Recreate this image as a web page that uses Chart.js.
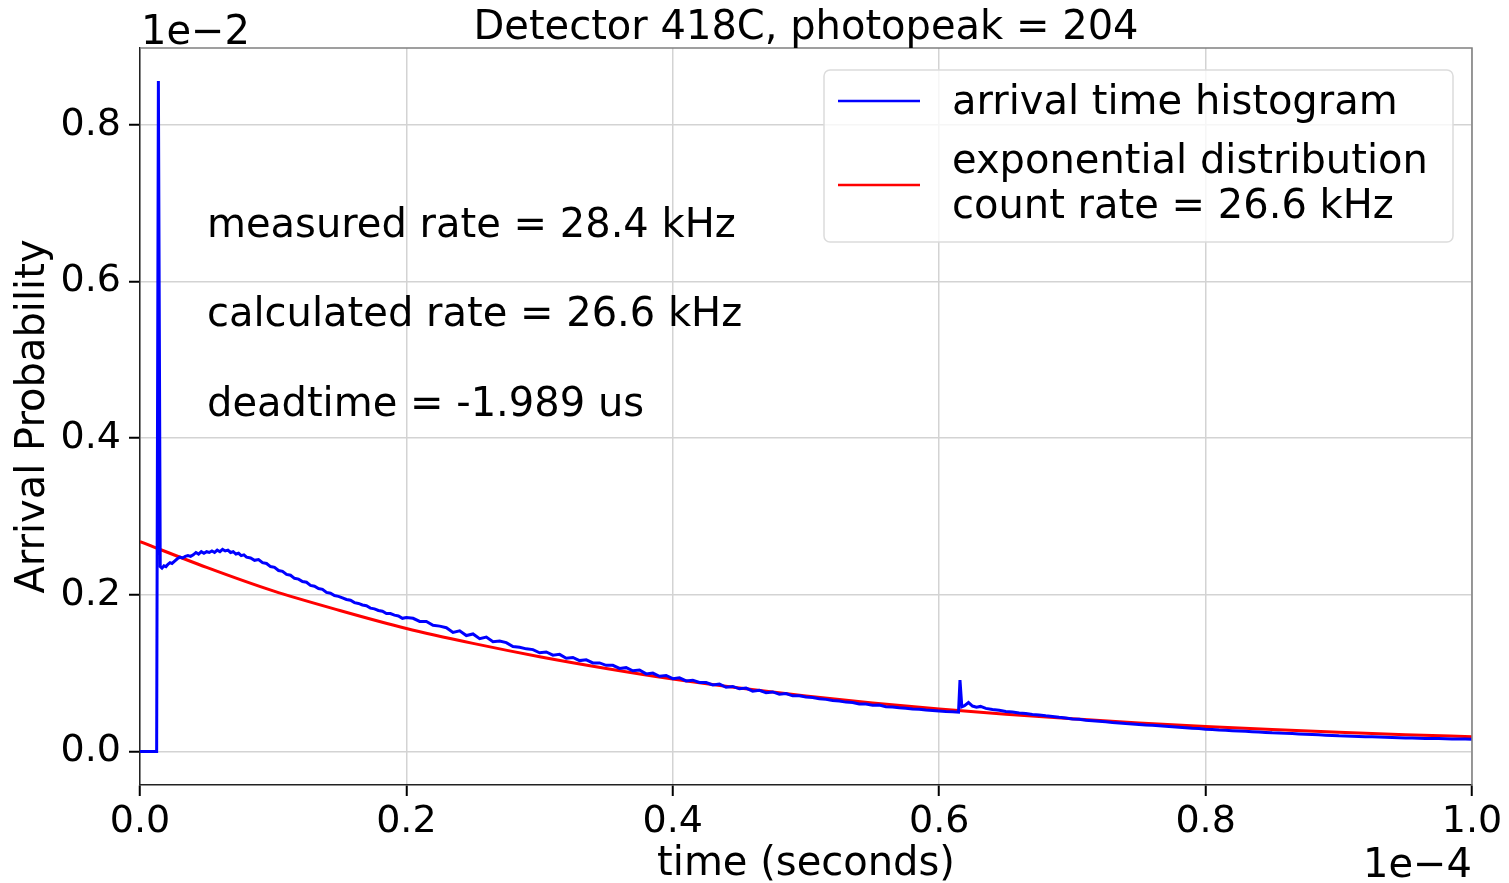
<!DOCTYPE html>
<html>
<head>
<meta charset="utf-8">
<script src="https://cdn.jsdelivr.net/npm/chart.js@4"></script>
<style>
  body { margin: 0; background: #fff; }
  #wrap { width: 1509px; height: 883px; }
</style>
</head>
<body>
<div id="wrap"><canvas id="myChart"></canvas></div>
<script>
// x in units of 1e-4 s, y in units of 1e-2
const xTicks = [0.0, 0.2, 0.4, 0.6, 0.8, 1.0]
const yTicks = [0.0, 0.2, 0.4, 0.6, 0.8]

const blueTime = [
  0, 0.0125, 0.0138, 0.0152, 0.0165, 0.018, 0.0195, 0.021, 0.0225, 0.024,
  0.026, 0.028, 0.030, 0.032, 0.034, 0.036, 0.038, 0.040, 0.042, 0.044,
  0.046, 0.048, 0.050, 0.052, 0.054, 0.056, 0.058, 0.060, 0.062, 0.064,
  0.066, 0.068, 0.070, 0.072, 0.074, 0.076, 0.078, 0.080, 0.083, 0.086,
  0.089, 0.092, 0.095, 0.098, 0.101, 0.104, 0.107, 0.110, 0.113, 0.116,
  0.119, 0.122, 0.125, 0.128, 0.131, 0.134, 0.137, 0.140, 0.143, 0.146,
  0.149, 0.152, 0.155, 0.158, 0.161, 0.164, 0.167, 0.170, 0.173, 0.176,
  0.179, 0.182, 0.185, 0.188, 0.191, 0.194, 0.197, 0.200, 0.205, 0.210,
  0.215, 0.220, 0.225, 0.230, 0.235, 0.240, 0.245, 0.250, 0.255, 0.260,
  0.265, 0.270, 0.275, 0.280, 0.285, 0.290, 0.295, 0.300, 0.305, 0.310,
  0.315, 0.320, 0.325, 0.330, 0.335, 0.340, 0.345, 0.350, 0.355, 0.360,
  0.365, 0.370, 0.375, 0.380, 0.385, 0.390, 0.395, 0.400, 0.405, 0.410,
  0.415, 0.420, 0.425, 0.430, 0.435, 0.440, 0.445, 0.450, 0.455, 0.460,
  0.465, 0.470, 0.475, 0.480, 0.485, 0.490, 0.495, 0.500, 0.505, 0.510,
  0.515, 0.520, 0.525, 0.530, 0.535, 0.540, 0.545, 0.550, 0.555, 0.560,
  0.565, 0.570, 0.575, 0.580, 0.585, 0.590, 0.595, 0.600, 0.605, 0.610,
  0.6145, 0.6156, 0.617, 0.619, 0.622, 0.625, 0.628, 0.631, 0.635, 0.640,
  0.645, 0.650, 0.655, 0.660, 0.665, 0.670, 0.675, 0.680, 0.685, 0.690,
  0.695, 0.700, 0.705, 0.710, 0.715, 0.720, 0.725, 0.730, 0.735, 0.740,
  0.745, 0.750, 0.755, 0.760, 0.765, 0.770, 0.775, 0.780, 0.785, 0.790,
  0.795, 0.800, 0.805, 0.810, 0.815, 0.820, 0.825, 0.830, 0.835, 0.840,
  0.845, 0.850, 0.855, 0.860, 0.865, 0.870, 0.875, 0.880, 0.885, 0.890,
  0.895, 0.900, 0.905, 0.910, 0.915, 0.920, 0.925, 0.930, 0.935, 0.940,
  0.945, 0.950, 0.955, 0.960, 0.965, 0.970, 0.975, 0.980, 0.985, 0.990,
  0.995, 1.000
]
const blueProb = [
  0, 0, 0.856, 0.236, 0.234, 0.237, 0.236, 0.239, 0.241, 0.240,
  0.243, 0.246, 0.248, 0.247, 0.249, 0.250, 0.249, 0.251, 0.254, 0.252,
  0.255, 0.253, 0.255, 0.254, 0.256, 0.254, 0.257, 0.255, 0.258, 0.256,
  0.257, 0.254, 0.255, 0.252, 0.253, 0.250, 0.251, 0.248, 0.247, 0.244,
  0.245, 0.241, 0.240, 0.236, 0.235, 0.231, 0.230, 0.226, 0.225, 0.221,
  0.220, 0.217, 0.216, 0.212, 0.211, 0.208, 0.207, 0.203, 0.202, 0.199,
  0.198, 0.196, 0.194, 0.193, 0.190, 0.189, 0.187, 0.186, 0.183, 0.182,
  0.180, 0.179, 0.176, 0.176, 0.174, 0.173, 0.170, 0.171, 0.170, 0.166,
  0.166, 0.161, 0.160, 0.158, 0.152, 0.154, 0.148, 0.150, 0.144, 0.146,
  0.140, 0.141, 0.139, 0.134, 0.133, 0.131, 0.130, 0.126, 0.127, 0.123,
  0.124, 0.119, 0.120, 0.116, 0.117, 0.113, 0.113, 0.110, 0.110, 0.106,
  0.107, 0.103, 0.104, 0.099, 0.100, 0.096, 0.097, 0.093, 0.094, 0.090,
  0.091, 0.088, 0.088, 0.085, 0.086, 0.082, 0.083, 0.080, 0.081, 0.077,
  0.078, 0.075, 0.076, 0.073, 0.074, 0.071, 0.071, 0.0695, 0.069, 0.0672,
  0.0665, 0.0650, 0.0645, 0.063, 0.0625, 0.0605, 0.0605, 0.059, 0.0592, 0.0572,
  0.0568, 0.0557, 0.0553, 0.0543, 0.0540, 0.0528, 0.0523, 0.0517, 0.0510, 0.0506,
  0.0502, 0.091, 0.057, 0.0585, 0.0625, 0.058, 0.0565, 0.0575, 0.055, 0.0535,
  0.0525, 0.0510, 0.0505, 0.0492, 0.0485, 0.0472, 0.0465, 0.0455, 0.0447, 0.0436,
  0.0428, 0.0415, 0.0410, 0.0400, 0.0393, 0.0385, 0.0378, 0.0370, 0.0364, 0.0356,
  0.0350, 0.0345, 0.0338, 0.0334, 0.0328, 0.0322, 0.0316, 0.0310, 0.0304, 0.0297,
  0.0292, 0.0285, 0.0281, 0.0275, 0.0271, 0.0266, 0.0262, 0.0257, 0.0252, 0.0248,
  0.0243, 0.0238, 0.0235, 0.0231, 0.0228, 0.0224, 0.0220, 0.0216, 0.0212, 0.0208,
  0.0204, 0.0200, 0.0198, 0.0195, 0.0192, 0.0189, 0.0187, 0.0184, 0.0181, 0.0178,
  0.0176, 0.0173, 0.0171, 0.0169, 0.0167, 0.0165, 0.0164, 0.0162, 0.0160, 0.0159,
  0.0158, 0.0157
]

const redTime = [
  0.00, 0.05, 0.10, 0.15, 0.20, 0.25, 0.30, 0.35, 0.40, 0.45, 0.50,
  0.55, 0.60, 0.65, 0.70, 0.75, 0.80, 0.85, 0.90, 0.95, 1.00
]
const redProb = [
  0.268, 0.235, 0.205, 0.180, 0.157, 0.138, 0.121, 0.106, 0.0925, 0.081, 0.0709,
  0.062, 0.0543, 0.0476, 0.0417, 0.0365, 0.0319, 0.0280, 0.0245, 0.0214, 0.0188
]

const titleText = 'Detector 418C, photopeak = 204'
const notes = ['measured rate = 28.4 kHz', 'calculated rate = 26.6 kHz', 'deadtime = -1.989 us']
const legendLabels = [['arrival time histogram'], ['exponential distribution', 'count rate = 26.6 kHz']]

const FONT = "'DejaVu Sans', sans-serif"
Chart.defaults.font.family = FONT
Chart.defaults.font.size = 38
Chart.defaults.color = '#000'

const toPoints = (xs, ys) => xs.map((x, i) => ({ x: x, y: ys[i] }))

const decorations = {
  id: 'decorations',
  afterDraw(chart) {
    const { ctx, chartArea: a } = chart
    ctx.save()
    // top and right spines
    ctx.strokeStyle = '#808080'
    ctx.lineWidth = 1.5
    ctx.beginPath()
    ctx.moveTo(a.left, a.top)
    ctx.lineTo(a.right, a.top)
    ctx.lineTo(a.right, a.bottom)
    ctx.stroke()

    ctx.fillStyle = '#000'
    ctx.font = '40px ' + FONT
    ctx.textBaseline = 'alphabetic'
    // title
    ctx.textAlign = 'center'
    ctx.fillText(titleText, (a.left + a.right) / 2, 39)
    // offset labels
    ctx.textAlign = 'left'
    ctx.fillText('1e\u22122', a.left + 1, 44)
    ctx.textAlign = 'right'
    ctx.fillText('1e\u22124', a.right, 877)

    // annotations
    ctx.textAlign = 'left'
    notes.forEach((t, i) => ctx.fillText(t, 207, 237 + i * 89.3))

    // legend
    const bx = 824, by = 70, bw = 629, bh = 172
    ctx.fillStyle = 'rgba(255,255,255,0.8)'
    ctx.strokeStyle = '#dcdcdc'
    ctx.lineWidth = 1.5
    ctx.beginPath()
    ctx.roundRect(bx, by, bw, bh, 6)
    ctx.fill()
    ctx.stroke()
    const lineY = [101, 185]
    const textY = [[114], [173, 218]]
    chart.data.datasets.forEach((ds, i) => {
      ctx.strokeStyle = ds.borderColor
      ctx.lineWidth = 2.5
      ctx.beginPath()
      ctx.moveTo(838, lineY[i])
      ctx.lineTo(920, lineY[i])
      ctx.stroke()
      ctx.fillStyle = '#000'
      ctx.textAlign = 'left'
      legendLabels[i].forEach((t, j) => ctx.fillText(t, 952, textY[i][j]))
    })
    ctx.restore()
  }
}

const ctx = document.getElementById('myChart')
const myChart = new Chart(ctx, {
  type: 'line',
  data: {
    datasets: [{
      label: 'arrival time histogram',
      data: toPoints(blueTime, blueProb),
      borderColor: '#0000ff',
      borderWidth: 3,
      pointRadius: 0,
      tension: 0
    }, {
      label: 'exponential distribution',
      data: toPoints(redTime, redProb),
      borderColor: '#ff0000',
      borderWidth: 3,
      pointRadius: 0,
      cubicInterpolationMode: 'monotone'
    }]
  },
  options: {
    responsive: true,
    maintainAspectRatio: false,
    animation: false,
    layout: {
      padding: { top: 48, right: 37, left: 0, bottom: 0 }
    },
    plugins: {
      legend: { display: false },
      tooltip: { enabled: false }
    },
    scales: {
      x: {
        type: 'linear',
        min: 0,
        max: 1,
        afterBuildTicks: (s) => { s.ticks = xTicks.map(v => ({ value: v })) },
        afterFit: (s) => { s.height = 98 },
        ticks: {
          padding: 3,
          callback: (v) => v.toFixed(1)
        },
        grid: {
          color: '#d3d3d3',
          lineWidth: 1.5,
          tickColor: '#000',
          tickLength: 11,
          tickWidth: 2
        },
        border: { color: '#222', width: 1.5 },
        title: {
          display: true,
          text: 'time (seconds)',
          font: { size: 40 },
          padding: { top: 0, bottom: -6 }
        }
      },
      y: {
        min: -0.0428,
        max: 0.898,
        afterBuildTicks: (s) => { s.ticks = yTicks.map(v => ({ value: v })) },
        afterFit: (s) => { s.width = 140 },
        ticks: {
          padding: 8,
          callback: (v) => v.toFixed(1)
        },
        grid: {
          color: '#d3d3d3',
          lineWidth: 1.5,
          tickColor: '#000',
          tickLength: 11,
          tickWidth: 2
        },
        border: { color: '#222', width: 1.5 },
        title: {
          display: true,
          text: 'Arrival Probability',
          font: { size: 40 },
          padding: { top: 10, bottom: 0 }
        }
      }
    }
  },
  plugins: [decorations]
})
</script>
</body>
</html>
